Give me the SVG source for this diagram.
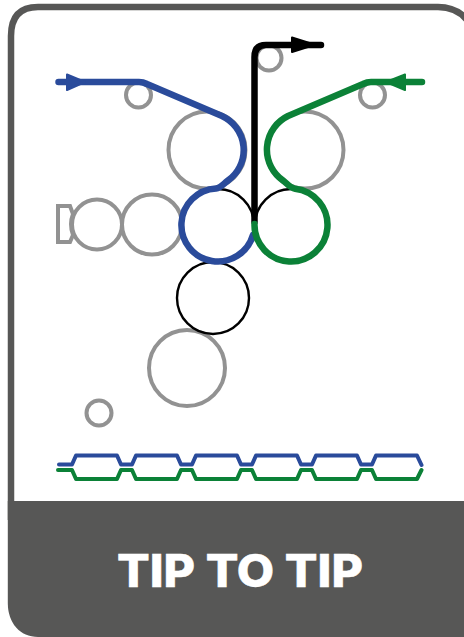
<svg xmlns="http://www.w3.org/2000/svg" width="464" height="637" viewBox="0 0 464 637">
<style>
.roll{fill:none;stroke:#929292;stroke-width:4}
.nip{fill:none;stroke:#000;stroke-width:2.4}
.web{fill:none;stroke-width:6.5;stroke-linecap:round;stroke-linejoin:round}
.fab{fill:none;stroke-width:4;stroke-linecap:round;stroke-linejoin:round}
.blue{stroke:#2a4b9b}
.green{stroke:#0b8137}
.black{stroke:#000}
.title{font-family:"Inter","Liberation Sans",sans-serif;font-weight:800;font-size:45px;fill:#fff;stroke:#fff;stroke-width:.5}
</style>
<rect width="464" height="637" fill="#fff"/>
<g id="card">
<path d="M11,520 V36 Q11,7 38,7 H438 Q459,7 470,24 V520" fill="#fff" stroke="#575756" stroke-width="6.500"/>
<path d="M7.800,501 H470 V637 H38 C20,637 7.800,623 7.800,603 Z" fill="#575756"/>
<text class="title" x="240" y="587" text-anchor="middle" textLength="246" lengthAdjust="spacingAndGlyphs">TIP TO TIP</text>
</g>
<g id="rollers">
<circle id="guide-left" class="roll" cx="138.500" cy="95" r="12.500"/>
<circle id="guide-top" class="roll" cx="269" cy="58" r="12.500"/>
<circle id="guide-right" class="roll" cx="372.500" cy="95" r="12.500"/>
<circle id="roll-upper-left" class="roll" cx="207" cy="150" r="38.500"/>
<circle id="roll-upper-right" class="roll" cx="305" cy="150" r="38.500"/>
<circle id="roll-side-small" class="roll" cx="97" cy="224.500" r="25"/>
<circle id="roll-side-large" class="roll" cx="152" cy="224.500" r="30"/>
<path id="side-bracket" class="roll" d="M58,206 H70 L73,214 Q69,224 73,235 L70,242 H58 Z"/>
<circle id="roll-lower" class="roll" cx="187" cy="368" r="38"/>
<circle id="guide-bottom" class="roll" cx="99" cy="413" r="12.500"/>
<circle id="nip-left" class="nip" cx="218" cy="225" r="36"/>
<circle id="nip-right" class="nip" cx="291" cy="225" r="36"/>
<circle id="nip-lower" class="nip" cx="213" cy="298" r="36"/>
</g>
<g id="connectors">
<path class="web black" d="M254.500,222 V57 Q254.500,45 266,45 H321"/>
<path d="M292,37.500 L315,44.700 L292,52 Z" fill="#000" stroke="#000" stroke-width="2" stroke-linejoin="round"/>
<path class="web blue" d="M58.500,82 H139 Q143,82 147,84 L222,116 A37.500,37.500 0 0 1 228,180.500 C223.500,183.600 221,187.800 216,188.500 A36.500,36.500 0 1 0 253,235"/>
<path d="M67,74.500 L85,82 L67,90 Z" fill="#2a4b9b" stroke="#2a4b9b" stroke-width="2" stroke-linejoin="round"/>
<path class="web green" d="M422,82 H371 Q367,82 363,84 L288,116 A37.500,37.500 0 0 0 283,180.500 C287,183.300 290,188 295,188.700 A36.500,36.500 0 1 1 254.500,224"/>
<path d="M405,74.500 L386,82 L405,90 Z" fill="#0b8137" stroke="#0b8137" stroke-width="2" stroke-linejoin="round"/>
<path class="fab blue" d="M59,464.500 H72 L76,455.500 H117 L121,464.500 H132 L136,455.500 H177 L181,464.500 H192 L196,455.500 H237 L241,464.500 H252 L256,455.500 H297 L301,464.500 H312 L316,455.500 H357 L361,464.500 H372 L376,455.500 H417 L421.500,465"/>
<path class="fab green" d="M58,470 H72 L76,479 H117 L121,470 H132 L136,479 H177 L181,470 H192 L196,479 H237 L241,470 H252 L256,479 H297 L301,470 H312 L316,479 H357 L361,470 H372 L376,479 H417 L421.500,470"/>
</g>
</svg>
